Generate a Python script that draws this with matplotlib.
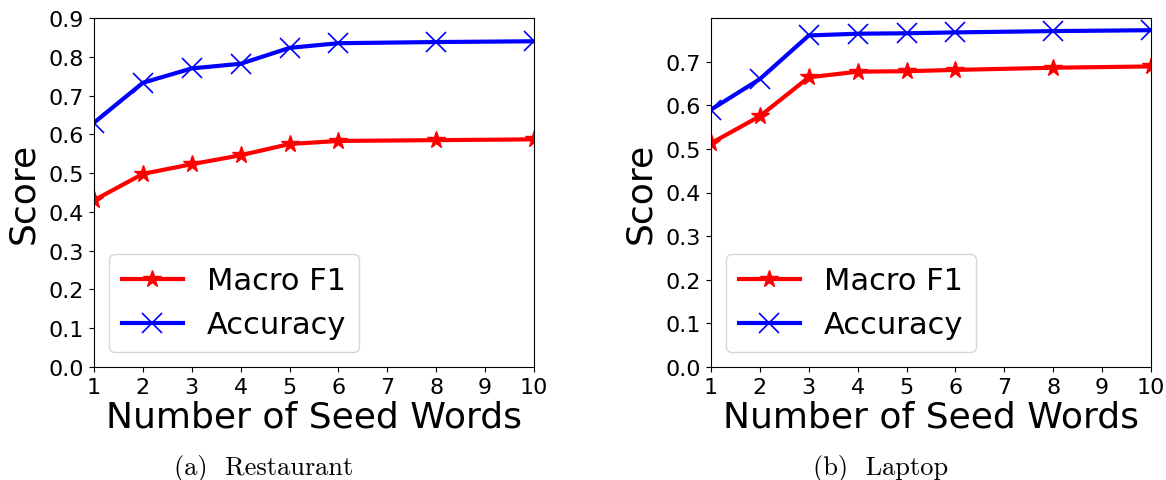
import matplotlib.pyplot as plt
from matplotlib.ticker import FormatStrFormatter

# Numero de palavras semente
seeds = [1, 2, 3, 4, 5, 6, 8, 10]

# Restaurant
rest_f1 = [0.430, 0.498, 0.523, 0.546, 0.575, 0.583, 0.585, 0.587]
rest_acc = [0.630, 0.733, 0.770, 0.782, 0.823, 0.835, 0.838, 0.840]

# Laptop
lap_f1 = [0.513, 0.575, 0.664, 0.677, 0.678, 0.681, 0.686, 0.689]
lap_acc = [0.590, 0.660, 0.760, 0.764, 0.765, 0.767, 0.770, 0.772]

panels = [
    ("(a)  Restaurant", rest_f1, rest_acc, 0.9),
    ("(b)  Laptop", lap_f1, lap_acc, 0.8),
]

fig = plt.figure(figsize=(11.66, 4.81), dpi=100)
lefts = [94 / 1166, 711 / 1166]
width = 440 / 1166
bottom = 1 - 368 / 481
height = 349 / 481

for left, (caption, f1, acc, ytop) in zip(lefts, panels):
    ax = fig.add_axes([left, bottom, width, height])
    ax.plot(seeds, f1, color="red", linewidth=3, marker="*", markersize=13, label="Macro F1")
    ax.plot(seeds, acc, color="blue", linewidth=3, marker="x", markersize=15,
            markeredgewidth=1.2, label="Accuracy")
    ax.set_xlim(1, 10)
    ax.set_ylim(0, ytop)
    ax.set_xticks(range(1, 11))
    nt = 10 if ytop > 0.85 else 8
    ax.set_yticks([i / 10 for i in range(nt)])
    ax.yaxis.set_major_formatter(FormatStrFormatter("%.1f"))
    ax.tick_params(labelsize=16)
    ax.set_xlabel("Number of Seed Words", fontsize=26, labelpad=2)
    ax.set_ylabel("Score", fontsize=26, labelpad=6)
    ax.legend(loc="lower left", fontsize=22)
    ax.text(0.386, -0.25, caption, transform=ax.transAxes, ha="center", va="top",
            fontsize=19, family="cmr10")

plt.savefig("out.png", dpi=100)
